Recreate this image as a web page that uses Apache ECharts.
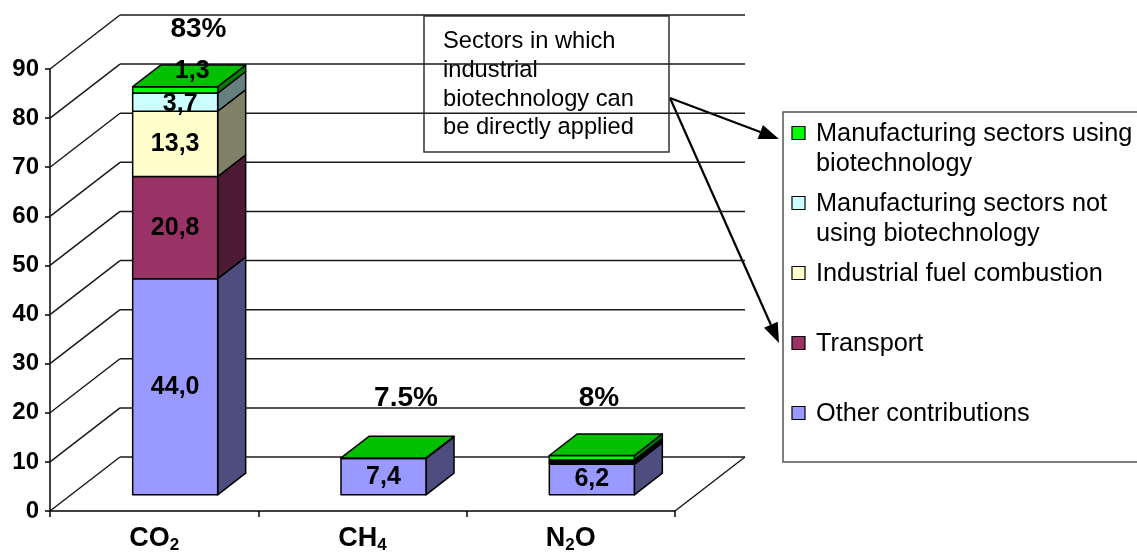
<!DOCTYPE html>
<html>
<head>
<meta charset="utf-8">
<title>Greenhouse gas emissions by sector</title>
<script src="https://cdn.jsdelivr.net/npm/echarts@6/dist/echarts.min.js"></script>
<style>
  html, body { margin: 0; padding: 0; background: #fff; }
  #chart { width: 1137px; height: 554px; }
</style>
</head>
<body>
<div id="chart"></div>
<script>
// ---- data ----
const categories = ['CO2', 'CH4', 'N2O'];
const otherContributions = [44.0, 7.4, 6.2];
const transport = [20.8, 0, 0.3];
const fuelCombustion = [13.3, 0, 0.3];
const mfgWithoutBiotech = [3.7, 0, 0.3];
const mfgWithBiotech = [1.3, 0.1, 0.9];
const shareLabels = ['83%', '7.5%', '8%'];
const yTicks = [0, 10, 20, 30, 40, 50, 60, 70, 80, 90];
const seriesNames = [
  'Other contributions',
  'Transport',
  'Industrial fuel combustion',
  'Manufacturing sectors not using biotechnology',
  'Manufacturing sectors using biotechnology'
];
const legendLines = [
  ['Manufacturing sectors using', 'biotechnology'],
  ['Manufacturing sectors not', 'using biotechnology'],
  ['Industrial fuel combustion'],
  ['Transport'],
  ['Other contributions']
];
const calloutLines = ['Sectors in which', 'industrial', 'biotechnology can', 'be directly applied'];

// stack levels, bottom to top
const stack = [otherContributions, transport, fuelCombustion, mfgWithoutBiotech, mfgWithBiotech];

// ---- styling ----
const FONT = '"Liberation Sans", Arial, sans-serif';
const faceColors = [
  { front: '#9999FF', side: '#4D4D80', top: '#7373BF' },
  { front: '#993366', side: '#4D1A33', top: '#73264D' },
  { front: '#FFFFCC', side: '#808066', top: '#BFBF99' },
  { front: '#CCFFFF', side: '#668080', top: '#99BFBF' },
  { front: '#00FF00', side: '#008000', top: '#00C000' }
];
// full depth of the 3-D box (floor / side wall) and where the bars sit in it
const DEPTH = [70, -54];
const BAR_FRONT = 0.3;
const BAR_DEPTH = 0.4;
const BAR_WIDTH = 0.408;
const EDGE = '#000';

function fmt(v) { return v.toFixed(1).replace('.', ','); }

// back wall, side wall and floor
function renderFrame(params, api) {
  const cs = params.coordSys;
  const t = api.value(1);
  const y = api.coord([0, t])[1];
  const x0 = cs.x, x1 = cs.x + cs.width;
  const lineStyle = { stroke: '#1a1a1a', lineWidth: 1.5 };
  const children = [
    { type: 'line', shape: { x1: x0, y1: y, x2: x0 + DEPTH[0], y2: y + DEPTH[1] }, style: lineStyle },
    { type: 'line', shape: { x1: x0 + DEPTH[0], y1: y + DEPTH[1], x2: x1 + DEPTH[0], y2: y + DEPTH[1] }, style: lineStyle }
  ];
  if (t === 0) {
    children.push({ type: 'line', shape: { x1: x1, y1: y, x2: x1 + DEPTH[0], y2: y + DEPTH[1] }, style: lineStyle });
  }
  return { type: 'group', children };
}

function makeBarRenderer(level) {
  return function (params, api) {
    const i = api.value(0);
    const val = api.value(1);
    if (!(val > 0)) return null;
    let base = 0;
    for (let k = 0; k < level; k++) base += stack[k][i];
    let above = 0;
    for (let k = level + 1; k < stack.length; k++) above += stack[k][i];
    const isTop = above <= 0;

    const pb = api.coord([i, base]);
    const pt = api.coord([i, base + val]);
    const catW = api.size([1, 0])[0];
    const w = catW * BAR_WIDTH;
    const fx = DEPTH[0] * BAR_FRONT, fy = DEPTH[1] * BAR_FRONT;
    const dx = DEPTH[0] * BAR_DEPTH, dy = DEPTH[1] * BAR_DEPTH;
    const xL = pb[0] - w / 2 + fx, xR = xL + w;
    const yB = pb[1] + fy, yT = pt[1] + fy;
    const c = faceColors[level];
    const stroke = { stroke: EDGE, lineWidth: 1.5, lineJoin: 'round' };

    const children = [
      { type: 'polygon', shape: { points: [[xR, yB], [xR + dx, yB + dy], [xR + dx, yT + dy], [xR, yT]] },
        style: Object.assign({ fill: c.side }, stroke) },
      { type: 'rect', shape: { x: xL, y: yT, width: w, height: yB - yT },
        style: Object.assign({ fill: c.front }, stroke) }
    ];
    if (isTop) {
      children.push({ type: 'polygon', shape: { points: [[xL, yT], [xR, yT], [xR + dx, yT + dy], [xL + dx, yT + dy]] },
        style: Object.assign({ fill: c.top }, stroke) });
    }
    if (val >= 1) {
      let lx = (xL + xR) / 2, ly = (yT + yB) / 2;
      if (isTop && yB - yT < 12) {
        // thin top slice: label sits on the top face
        lx += dx / 2 + 3; ly = yT + dy / 2 - 5;
      } else if (yB - yT < 25) {
        lx += 5; ly += 2;
      }
      children.push({ type: 'text', z2: 10,
        style: { text: fmt(val), x: lx, y: ly, align: 'center', verticalAlign: 'middle',
                 font: 'bold 25px ' + FONT, fill: '#000' } });
    }
    return { type: 'group', children };
  };
}

function arrow(x1, y1, x2, y2) {
  const ang = Math.atan2(y2 - y1, x2 - x1);
  const len = 20, hw = 7.5;
  const bx = x2 - len * Math.cos(ang), by = y2 - len * Math.sin(ang);
  const nx = -Math.sin(ang) * hw, ny = Math.cos(ang) * hw;
  return [
    { type: 'line', shape: { x1, y1, x2: bx, y2: by }, style: { stroke: '#000', lineWidth: 2.2 } },
    { type: 'polygon', shape: { points: [[x2, y2], [bx + nx, by + ny], [bx - nx, by - ny]] }, style: { fill: '#000' } }
  ];
}

// legend box
const legendX = 783, legendY = 112, legendFirst = 133, legendStep = 70;
const legendOrder = [4, 3, 2, 1, 0];
const legendGraphics = [
  { type: 'rect', shape: { x: legendX, y: legendY, width: 380, height: 350 },
    style: { fill: '#fff', stroke: '#555', lineWidth: 1.5 } }
];
legendOrder.forEach((lvl, j) => {
  const cy = legendFirst + j * legendStep;
  legendGraphics.push({ type: 'rect', shape: { x: 792, y: cy - 6.5, width: 13, height: 13 },
    style: { fill: faceColors[lvl].front, stroke: '#000', lineWidth: 1.2 } });
  legendGraphics.push({ type: 'text', style: { text: legendLines[j].join('\n'), x: 816, y: cy - 14,
    font: '25.3px ' + FONT, lineHeight: 30, fill: '#000', align: 'left', verticalAlign: 'top' } });
});

const calloutGraphics = [
  { type: 'rect', shape: { x: 424, y: 16, width: 245, height: 136 },
    style: { fill: '#fff', stroke: '#333', lineWidth: 1.5 } },
  { type: 'text', style: { text: calloutLines.join('\n'), x: 443, y: 27.5, font: '23.7px ' + FONT,
    lineHeight: 28.7, fill: '#000', align: 'left', verticalAlign: 'top' } }
];

const shareGraphics = [
  { x: 198.5, y: 29 }, { x: 406, y: 398 }, { x: 599, y: 398 }
].map((p, i) => ({ type: 'text', style: { text: shareLabels[i], x: p.x, y: p.y, align: 'center',
  verticalAlign: 'middle', font: 'bold 28px ' + FONT, fill: '#000' } }));

const arrowGraphics = [].concat(arrow(670, 98, 779, 139), arrow(670, 98, 779, 343));

const subLabels = ['{m|CO}{s|2}', '{m|CH}{s|4}', '{m|N}{s|2}{m|O}'];

const chart = echarts.init(document.getElementById('chart'), null, { renderer: 'canvas' });
chart.setOption({
  backgroundColor: '#fff',
  animation: false,
  grid: { left: 50, top: 69, width: 625, height: 442, containLabel: false, outerBoundsMode: 'none' },
  xAxis: {
    type: 'category',
    data: categories,
    axisLine: { show: true, lineStyle: { color: '#000', width: 1.5 } },
    axisTick: { show: true, length: 6, lineStyle: { color: '#000', width: 1.5 } },
    axisLabel: {
      margin: 13,
      formatter: (v, i) => subLabels[i],
      rich: {
        m: { fontSize: 27, fontWeight: 'bold', fontFamily: FONT, color: '#000', lineHeight: 30, verticalAlign: 'middle' },
        s: { fontSize: 17, fontWeight: 'bold', fontFamily: FONT, color: '#000', lineHeight: 30, verticalAlign: 'bottom' }
      }
    },
    splitLine: { show: false }
  },
  yAxis: {
    type: 'value',
    min: 0, max: 90, interval: 10,
    axisLine: { show: true, lineStyle: { color: '#000', width: 1.5 } },
    axisTick: { show: true, length: 5, lineStyle: { color: '#000', width: 1.5 } },
    axisLabel: { margin: 11, fontSize: 24, fontWeight: 'bold', fontFamily: FONT, color: '#000' },
    splitLine: { show: false }
  },
  series: [
    {
      type: 'custom', name: 'frame', z: 1, silent: true,
      data: yTicks.map(t => [0, t]),
      encode: { x: 0, y: 1 },
      renderItem: renderFrame
    }
  ].concat(stack.map((vals, level) => ({
    type: 'custom', name: seriesNames[level], z: 3 + level,
    data: vals.map((v, i) => [i, v]),
    encode: { x: 0, y: 1 },
    renderItem: makeBarRenderer(level)
  }))),
  graphic: [].concat(calloutGraphics, arrowGraphics, legendGraphics, shareGraphics)
});
</script>
</body>
</html>
